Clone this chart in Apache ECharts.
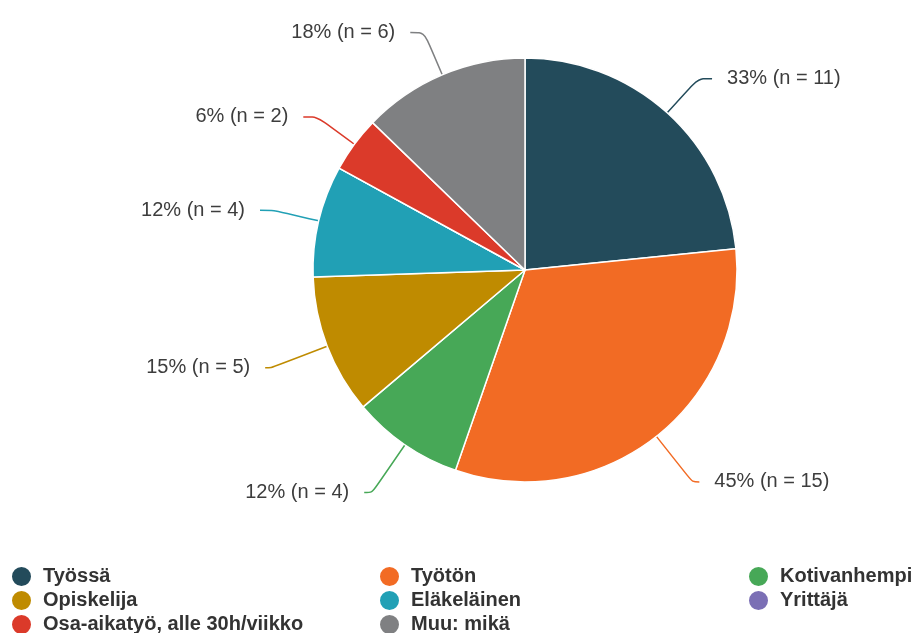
<!DOCTYPE html>
<html>
<head>
<meta charset="utf-8">
<script src="https://cdn.jsdelivr.net/npm/echarts@6/dist/echarts.min.js"></script>
<style>
html,body{margin:0;padding:0;background:#fff;}
#chart{width:914px;height:633px;}
</style>
</head>
<body>
<div id="chart"></div>
<script>
var categories = ['Työssä', 'Työtön', 'Kotivanhempi', 'Opiskelija', 'Eläkeläinen', 'Yrittäjä', 'Osa-aikatyö, alle 30h/viikko', 'Muu: mikä'];
var counts = [11, 15, 4, 5, 4, 0, 2, 6];
var percents = [33, 45, 12, 15, 12, 0, 6, 18];
var colors = ['#234b5b', '#f26b24', '#47a857', '#bf8b00', '#21a0b5', '#7b6fb5', '#db3a2a', '#7f8082'];
var legendColumns = [
  ['Työssä', 'Opiskelija', 'Osa-aikatyö, alle 30h/viikko'],
  ['Työtön', 'Eläkeläinen', 'Muu: mikä'],
  ['Kotivanhempi', 'Yrittäjä']
];

var chart = echarts.init(document.getElementById('chart'), null, {renderer: 'canvas'});

var lineStyles = {
  1: {length: 58, length2: 7},
  2: {length: 58, length2: 8},
  3: {length: 60, length2: 6}
};

var data = categories.map(function (name, i) {
  var item = {name: name, value: counts[i], itemStyle: {color: colors[i]}};
  if (lineStyles[i]) {
    item.labelLine = lineStyles[i];
  }
  if (counts[i] === 0) {
    item.label = {show: false};
    item.labelLine = {show: false};
  }
  return item;
});

var legendLefts = [10, 378, 747];
var legends = legendColumns.map(function (col, i) {
  return {
    data: col,
    orient: 'vertical',
    left: legendLefts[i],
    top: 565,
    height: 120,
    padding: 0,
    icon: 'circle',
    itemWidth: 21,
    itemHeight: 21,
    itemGap: 1,
    selectedMode: false,
    textStyle: {
      fontFamily: 'Liberation Sans, Arial, sans-serif',
      fontSize: 20,
      fontWeight: 'bold',
      color: '#333333',
      padding: [0, 0, 0, 6]
    }
  };
});

chart.setOption({
  animation: false,
  color: colors,
  legend: legends,
  series: [{
    type: 'pie',
    center: [525, 270],
    radius: 212,
    startAngle: 90,
    clockwise: true,
    data: data,
    itemStyle: {borderColor: '#ffffff', borderWidth: 1.5},
    label: {
      show: true,
      fontFamily: 'Liberation Sans, Arial, sans-serif',
      fontSize: 20,
      color: '#3d3d3d',
      distanceToLabelLine: 15,
      formatter: function (p) {
        return percents[p.dataIndex] + '% (n = ' + counts[p.dataIndex] + ')';
      }
    },
    labelLine: {
      show: true,
      length: 46,
      length2: 14,
      smooth: true,
      lineStyle: {width: 1.5}
    },
    emphasis: {disabled: true}
  }]
});
</script>
</body>
</html>
